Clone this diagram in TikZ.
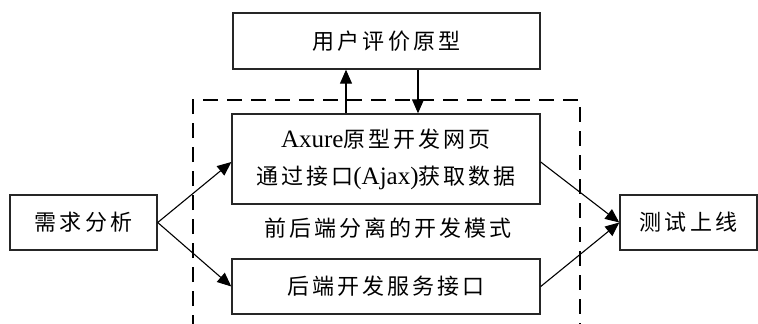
\documentclass[tikz,border=0pt]{standalone}
\usepackage{fontspec}
\setmainfont{Liberation Serif}
\newfontfamily\cjk[LetterSpace=14]{Noto Sans CJK SC}
\usetikzlibrary{arrows.meta,calc}
\tikzset{
  box/.style={draw=black!85, line width=1.4pt, rectangle, inner sep=0pt, align=center,
    font=\fontsize{22}{37}\selectfont\cjk},
  arr/.style={draw=black, line width=1.1pt, -{Triangle[length=14pt,width=12pt]}},
  lbl/.style={inner sep=0pt, font=\fontsize{22}{26}\selectfont\cjk},
}
\newcommand\lat[1]{{\rmfamily\fontsize{25}{37}\selectfont #1}}
\begin{document}
\begin{tikzpicture}[x=1pt,y=-1pt]
\useasboundingbox (0,0) rectangle (758,324);
% dashed frame (bottom edge lies outside the picture)
\draw[line width=1.4pt, dash pattern=on 15pt off 9pt] (193,330) -- (193,100) -- (580,100) -- (580,330);
\node[box, minimum width=307pt, minimum height=56pt] (top) at (386.5,41) {用户评价原型};
\node[box, minimum width=308pt, minimum height=90pt] (ax) at (386,159)
  {\lat{Axure}原型开发网页\\
   通过接口\lat{(Ajax)}获取数据};
\node[box, minimum width=308pt, minimum height=55pt] (be) at (386,286.5) {后端开发服务接口};
\node[box, minimum width=147pt, minimum height=55pt] (req) at (83.5,222.5) {需求分析};
\node[box, minimum width=137pt, minimum height=55pt] (test) at (688.5,222.5) {测试上线};
\node[lbl] (mode) at (388,228) {前后端分离的开发模式};
\coordinate (u) at (346,0);
\coordinate (d) at (418,0);
\draw[arr] (ax.north -| u) -- (top.south -| u);
\draw[arr] (top.south -| d) -- (ax.north -| d);
\draw[arr] (req.east) -- ($(ax.west)+(0,3)$);
\draw[arr] (req.east) -- (be.west);
\draw[arr] ($(ax.east)+(0,3)$) -- (test.west);
\draw[arr] (be.east) -- (test.west);
\end{tikzpicture}
\end{document}
